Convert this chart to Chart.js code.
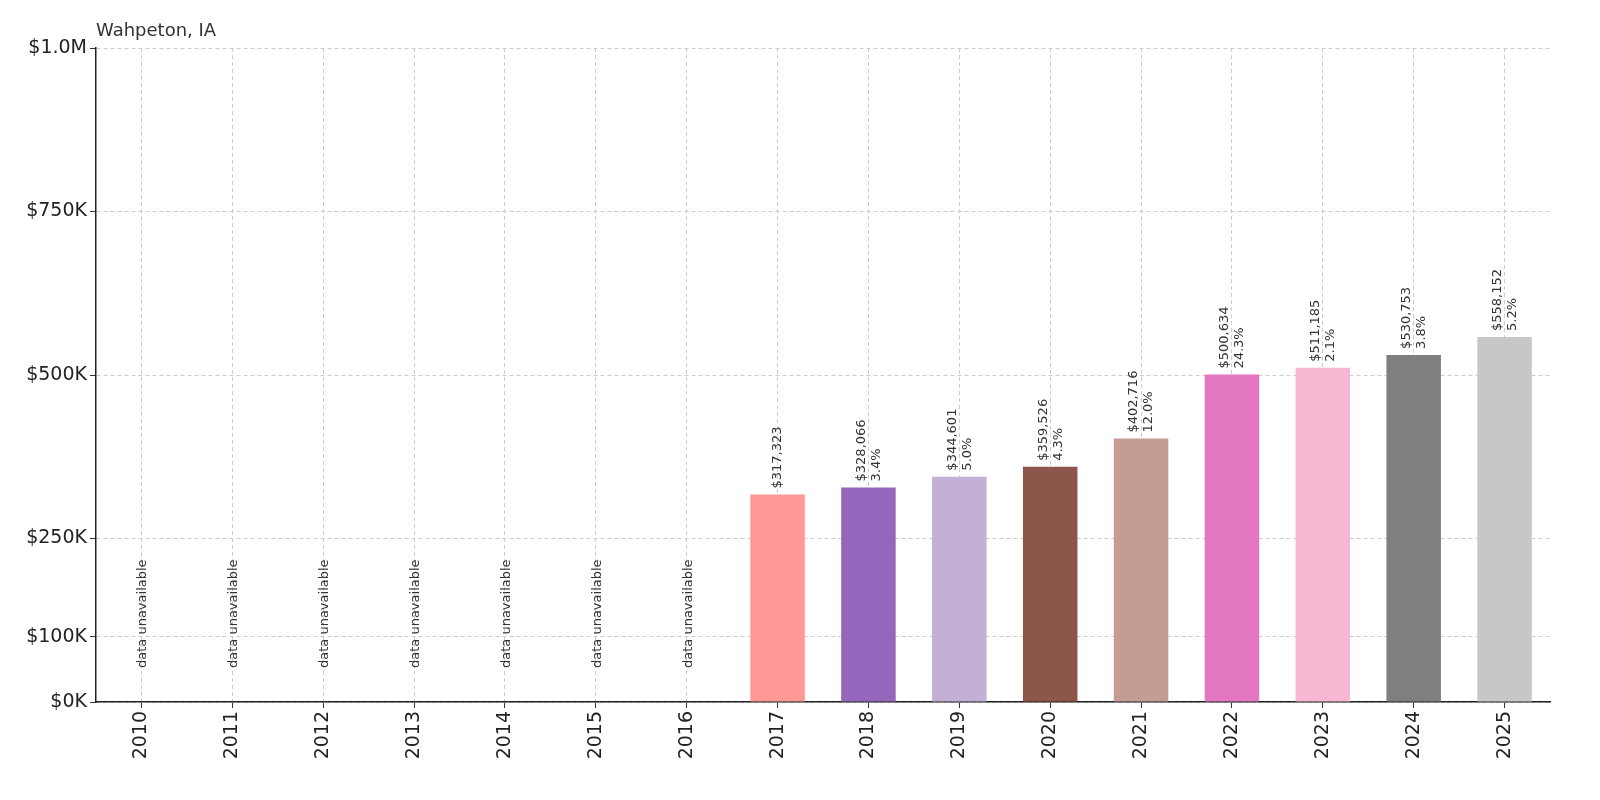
<!DOCTYPE html>
<html><head><meta charset="utf-8">
<script src="https://cdn.jsdelivr.net/npm/chart.js@4/dist/chart.umd.min.js"></script>
<style>html,body{margin:0;background:#fff}#w{width:1600px;height:800px}</style>
</head><body><div id="w"><canvas id="c"></canvas></div>
<script>
const years=['2010','2011','2012','2013','2014','2015','2016','2017','2018','2019','2020','2021','2022','2023','2024','2025'];
const values=[null,null,null,null,null,null,null,317323,328066,344601,359526,402716,500634,511185,530753,558152];
const pctLabels=['','','','','','','','','3.4%','5.0%','4.3%','12.0%','24.3%','2.1%','3.8%','5.2%'];
const colors=['#1f77b4','#aec7e8','#ff7f0e','#ffbb78','#2ca02c','#98df8a','#d62728','#ff9896','#9467bd','#c5b0d5','#8c564b','#c49c94','#e377c2','#f7b6d2','#7f7f7f','#c7c7c7'];
const yTicks=[0,100000,250000,500000,750000,1000000];
const yTickLabels=['$0K','$100K','$250K','$500K','$750K','$1.0M'];
const FONT='"DejaVu Sans", sans-serif';
const labelPlugin={id:'lbl',afterDatasetsDraw(ch){
  const c=ch.ctx,x=ch.scales.x,y=ch.scales.y;
  c.save();c.fillStyle='#333';c.font='13px '+FONT;
  years.forEach((yr,i)=>{
    const cx=x.getPixelForValue(i);
    c.save();
    if(values[i]==null){
      c.translate(cx+5,y.getPixelForValue(0)-34);c.rotate(-Math.PI/2);
      c.textAlign='left';c.textBaseline='alphabetic';c.fillText('data unavailable',0,0);
    }else{
      const top=y.getPixelForValue(values[i])-6;
      c.translate(cx,top);c.rotate(-Math.PI/2);c.textAlign='left';c.textBaseline='middle';
      const v='$'+values[i].toLocaleString('en-US');
      if(pctLabels[i]){c.fillText(v,0,-7);c.fillText(pctLabels[i],0,8);}else c.fillText(v,0,0);
    }
    c.restore();
  });
  c.font='18px '+FONT;c.fillStyle='#333';c.textAlign='left';c.textBaseline='alphabetic';
  c.fillText('Wahpeton, IA',96,36);
  c.restore();
}};
new Chart(document.getElementById('c'),{type:'bar',
 data:{labels:years,datasets:[{data:values,backgroundColor:colors,categoryPercentage:1,barPercentage:0.6}]},
 options:{responsive:true,maintainAspectRatio:false,animation:false,
  layout:{padding:{top:48,right:50,left:0,bottom:0}},
  plugins:{legend:{display:false},tooltip:{enabled:false}},
  scales:{
   x:{offset:true,grid:{offset:false,color:'#ccc',tickColor:'#333',tickLength:6},border:{color:'#222',width:1.5,dash:[4,3]},
      ticks:{color:'#222',font:{size:19,family:FONT},maxRotation:90,minRotation:90},
      afterFit(s){s.height=98;}},
   y:{min:0,max:1000000,
      afterBuildTicks(s){s.ticks=yTicks.map(v=>({value:v}));},
      afterFit(s){s.width=96;},
      grid:{color:'#ccc',tickColor:'#333',tickLength:6},border:{color:'#222',width:1.5,dash:[4,3]},
      ticks:{color:'#222',font:{size:19,family:FONT},callback:(v)=>yTickLabels[yTicks.indexOf(v)]}}
  }},
 plugins:[labelPlugin]
});
</script></body></html>
